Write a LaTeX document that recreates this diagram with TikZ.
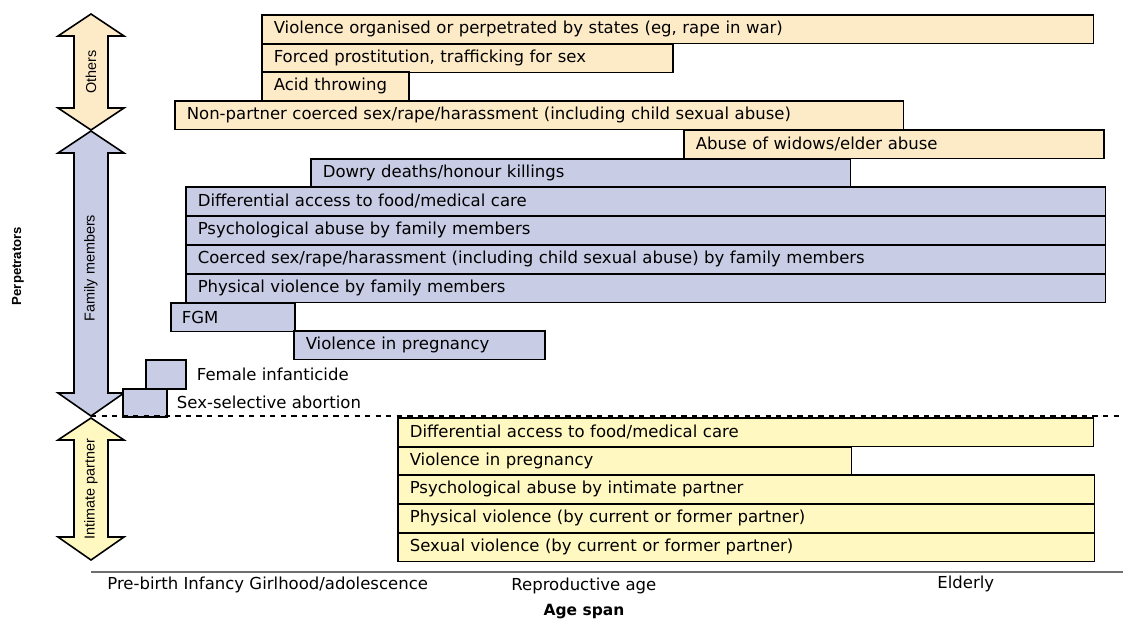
\documentclass[tikz,border=0pt]{standalone}
\usepackage{fontspec}
\setmainfont{DejaVu Sans}
\newfontfamily\narrowfont{Liberation Sans}
\usetikzlibrary{positioning}
\definecolor{othersfill}{RGB}{253,235,200}
\definecolor{familyfill}{RGB}{200,204,228}
\definecolor{partnerfill}{RGB}{255,248,192}
\definecolor{axisgray}{RGB}{110,110,110}

\begin{document}
\begin{tikzpicture}[x=0.02cm, y=-0.02cm,
  bar/.style={draw, line width=0.9pt, anchor=north west, minimum height=0.575cm,
    inner xsep=0.24cm, inner ysep=0pt, align=left, font=\fontsize{9.4}{10}\selectfont},
  obar/.style={bar, fill=othersfill},
  fbar/.style={bar, fill=familyfill},
  pbar/.style={bar, fill=partnerfill},
  tick/.style={draw, line width=0.9pt, fill=familyfill, anchor=north west, inner sep=0pt},
  side/.style={inner sep=0pt, font=\fontsize{9.4}{10}\selectfont},
  who/.style={rotate=90, font=\narrowfont\fontsize{8.2}{9}\selectfont},
  span/.style={draw, line width=0.9pt}]
\useasboundingbox (0,0) rectangle (1123,619);

% perpetrator arrows
\draw[span, fill=othersfill] (91,14) -- (124,36) -- (108,36) -- (108,108) -- (124,108) -- (91,130) -- (58,108) -- (74,108) -- (74,36) -- (58,36) -- cycle;
\draw[span, fill=familyfill] (91,131) -- (124,153) -- (108,153) -- (108,393) -- (124,393) -- (91,416) -- (58,393) -- (74,393) -- (74,153) -- (58,153) -- cycle;
\draw[span, fill=partnerfill] (91,418) -- (124,440) -- (108,440) -- (108,537) -- (124,537) -- (91,560) -- (58,537) -- (74,537) -- (74,440) -- (58,440) -- cycle;
\node (others) [who] at (91,72) {Others};
\node (family) [who] at (91,268) {Family members};
\node (partner) [who] at (91,489) {Intimate partner};
\node (perp) [rotate=90, font=\narrowfont\bfseries\fontsize{7.5}{9}\selectfont] at (18,266) {Perpetrators};

% others
\node (states) [obar, text width=16.16cm] at (261,14) {Violence organised or perpetrated by states (eg, rape in war)};
\node (traffic) [obar, text width=7.74cm] at (261,43) {Forced prostitution, trafficking for sex};
\node (acid) [obar, text width=2.46cm] at (261,71) {Acid throwing};
\node (nonpartner) [obar, text width=14.10cm] at (174,100) {Non-partner coerced sex/rape/harassment (including child sexual abuse)};
\node (widows) [obar, text width=7.92cm] at (683,129) {Abuse of widows/elder abuse};

% family members
\node (dowry) [fbar, text width=10.32cm] at (310,158) {Dowry deaths/honour killings};
\node (famfood) [fbar, text width=17.92cm] at (185,186) {Differential access to food/medical care};
\node (fampsych) [fbar, text width=17.92cm] at (185,215) {Psychological abuse by family members};
\node (famsex) [fbar, text width=17.92cm] at (185,244) {Coerced sex/rape/harassment (including child sexual abuse) by family members};
\node (famphys) [fbar, text width=17.92cm] at (185,273) {Physical violence by family members};
\node (fgm) [fbar, text width=2.04cm, inner xsep=0.22cm] at (170,302) {FGM};
\node (fampreg) [fbar, text width=4.54cm] at (293,330) {Violence in pregnancy};
\node (infbox) [tick, minimum width=0.8cm, minimum height=0.58cm] at (145,359) {};
\node (infant) [side, right=0.2cm of infbox] {Female infanticide};
\node (abobox) [tick, minimum width=0.88cm, minimum height=0.56cm] at (122,388) {};
\node (abort) [side, right=0.18cm of abobox] {Sex-selective abortion};

\coordinate (cutl) at (91,416);
\coordinate (cutr) at (1123,416);
\draw[dashed, line width=0.6pt] (cutl) -- (cutr);

% intimate partner
\node (ptfood) [pbar, text width=13.44cm] at (397,417) {Differential access to food/medical care};
\node (ptpreg) [pbar, text width=8.60cm] at (397,446) {Violence in pregnancy};
\node (ptpsych) [pbar, text width=13.46cm] at (397,474) {Psychological abuse by intimate partner};
\node (ptphys) [pbar, text width=13.46cm] at (397,503) {Physical violence (by current or former partner)};
\node (ptsex) [pbar, text width=13.46cm] at (397,532) {Sexual violence (by current or former partner)};

% age axis
\coordinate (axl) at (91,572);
\coordinate (axr) at (1123,572);
\draw[axisgray, line width=1pt] (axl) -- (axr);
\node (young) [side, anchor=west] at (107,585) {Pre-birth Infancy Girlhood/adolescence};
\node (repro) [side, anchor=west] at (511,586) {Reproductive age};
\node (elder) [side, anchor=west] at (937,584) {Elderly};
\node (agespan) [font=\bfseries\fontsize{8.8}{10}\selectfont] at (584,612) {Age span};
\end{tikzpicture}
\end{document}
